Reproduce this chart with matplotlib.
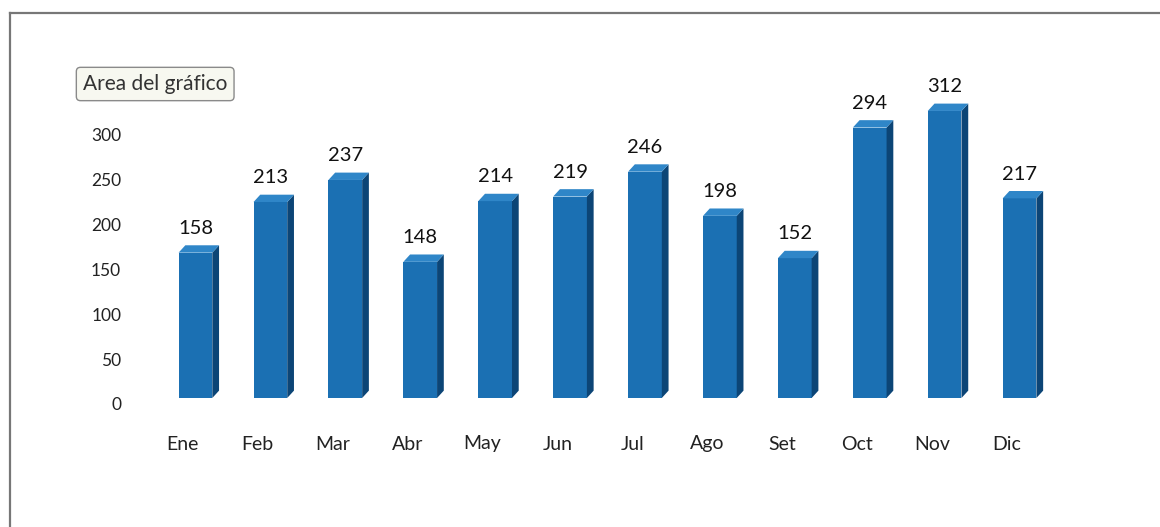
import matplotlib
matplotlib.use("Agg")
import matplotlib.pyplot as plt
from matplotlib.patches import Polygon
from matplotlib.lines import Line2D

months = ["Ene", "Feb", "Mar", "Abr", "May", "Jun", "Jul", "Ago", "Set", "Oct", "Nov", "Dic"]
values = [158, 213, 237, 148, 214, 219, 246, 198, 152, 294, 312, 217]
yticks = [0, 50, 100, 150, 200, 250, 300]

plt.rcParams["font.family"] = ["Lato", "DejaVu Sans"]

W, H = 1160, 527
fig = plt.figure(figsize=(W / 100, H / 100), dpi=100)
fig.patch.set_facecolor("white")

left, right = 149, 1063
# back wall (value axis) and front plane (bars) use slightly different scales, like Excel 3D
y0, ytop = 404, 95
axw = fig.add_axes([left / W, (H - y0) / H, (right - left) / W, (y0 - ytop) / H])
axw.set_ylim(0, (y0 - ytop) / 0.897)
axw.set_xlim(-0.45, 11.75)
axw.set_yticks(yticks)
axw.set_xticks([])
axw.tick_params(axis="y", length=0, pad=20, labelsize=12.5, labelcolor="#222222")

b0 = 398
ax = fig.add_axes([left / W, (H - b0) / H, (right - left) / W, (b0 - ytop) / H])
ax.set_ylim(0, (b0 - ytop) / 0.92)
ax.set_xlim(-0.45, 11.75)
ax.set_yticks([])

front, side, top = "#1b70b3", "#0c4576", "#2f86c8"
shift, bw = 0.17, 0.45
dx, dy = 0.09, 8          # fake 3D depth
for i, v in enumerate(values):
    x = i + shift
    ax.bar(x, v, width=bw, color=front, edgecolor="none", zorder=2)
    ax.add_patch(Polygon([(x + bw / 2, 0), (x + bw / 2 + dx, dy), (x + bw / 2 + dx, v + dy),
                          (x + bw / 2, v)], closed=True, fc=side, ec="none", zorder=2))
    ax.add_patch(Polygon([(x - bw / 2, v), (x - bw / 2 + dx, v + dy), (x + bw / 2 + dx, v + dy),
                          (x + bw / 2, v)], closed=True, fc=top, ec="none", zorder=2))
    ax.annotate(str(v), (x, v + dy), xytext=(0, 6), textcoords="offset points",
                ha="center", va="bottom", fontsize=14.5, color="#111111", clip_on=False)

ax.set_xticks(range(len(months)))
ax.set_xticklabels(months)
ax.tick_params(axis="x", length=0, pad=27, labelsize=14, labelcolor="#222222")
for a in (ax, axw):
    for s in a.spines.values():
        s.set_visible(False)
    a.set_facecolor("none")

# chart-area frame (only top and left visible in the screenshot)
fig.add_artist(Line2D([10 / W, 1], [1 - 13 / H, 1 - 13 / H], transform=fig.transFigure,
                      color="#777777", lw=1.6))
fig.add_artist(Line2D([10 / W, 10 / W], [0, 1 - 13 / H], transform=fig.transFigure,
                      color="#777777", lw=1.6))

# Excel tooltip
fig.text(83 / W, 1 - 84 / H, "Area del gráfico", fontsize=15, color="#333333",
         ha="left", va="center",
         bbox=dict(boxstyle="round,pad=0.32,rounding_size=0.2", fc="#f7f8f0", ec="#8a8a8a", lw=1))

fig.savefig("out.png", dpi=100)
